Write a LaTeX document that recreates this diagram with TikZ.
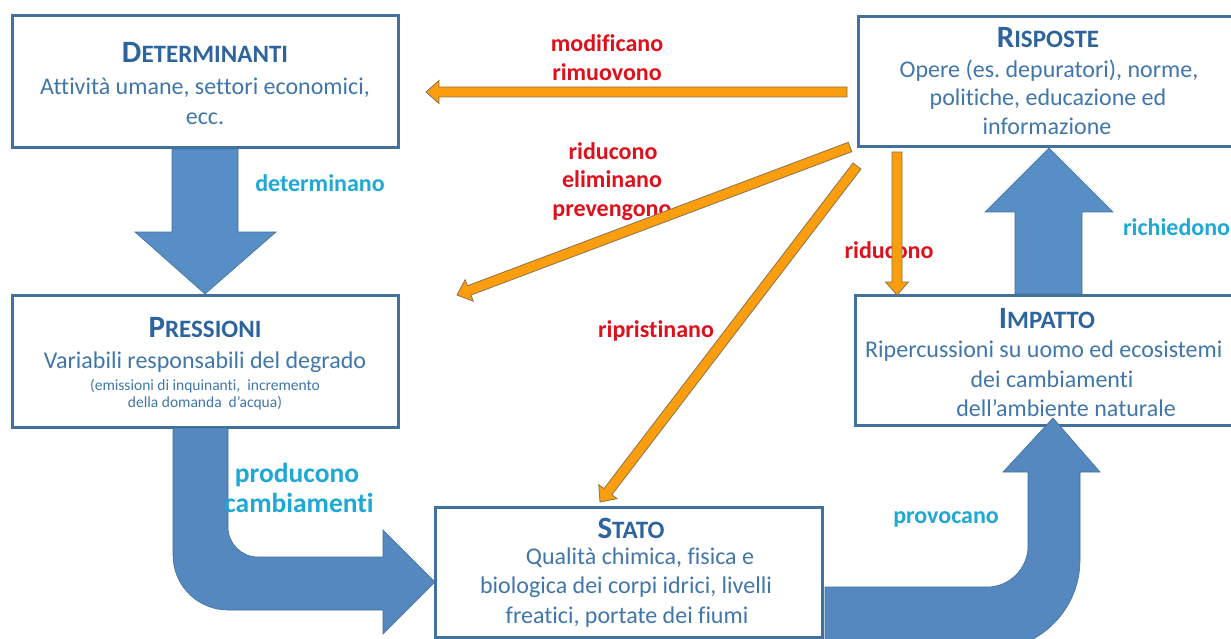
\documentclass[tikz,border=0pt]{standalone}
\usepackage{fontspec}
\setmainfont{Carlito}[Ligatures=NoCommon]
\usetikzlibrary{calc}
\frenchspacing
\definecolor{boxline}{RGB}{65,113,156}
\definecolor{titlecol}{RGB}{46,100,158}
\definecolor{bodycol}{RGB}{64,118,170}
\definecolor{labred}{RGB}{222,16,28}
\definecolor{labcyan}{RGB}{30,168,214}
\definecolor{bluearr}{RGB}{88,142,198}
\definecolor{bluecurve}{RGB}{84,136,190}
\definecolor{orangefill}{RGB}{250,157,14}
\definecolor{orangeline}{RGB}{140,115,75}
\newcommand\ttl[2]{\textbf{{\fontsize{31}{31}\selectfont #1}{\fontsize{25}{25}\selectfont #2}}}
\newcommand\orangearrow[3]{%
  \coordinate (#3h) at ($(#2)!13pt!(#1)$);
  \filldraw[oarr] ($(#1)!5pt!90:(#2)$) -- ($(#3h)!5pt!90:(#2)$) -- ($(#3h)!11.5pt!90:(#2)$) -- (#2)
    -- ($(#3h)!11.5pt!-90:(#2)$) -- ($(#3h)!5pt!-90:(#2)$) -- ($(#1)!5pt!-90:(#2)$) -- cycle;}
\begin{document}
\begin{tikzpicture}[x=1pt,y=-1pt,
  boxstyle/.style={draw=boxline, line width=3pt, fill=white, inner sep=0pt},
  ttlnode/.style={anchor=base, inner sep=0pt, text=titlecol},
  bodynode/.style={anchor=base, inner sep=0pt, text=bodycol, font=\fontsize{24}{29}\selectfont},
  subnode/.style={anchor=base, inner sep=0pt, text=bodycol, font=\fontsize{15.5}{18}\selectfont},
  redlab/.style={anchor=base, inner sep=0pt, text=labred, font=\fontsize{24}{29}\selectfont\bfseries},
  cyanlab/.style={anchor=base, inner sep=0pt, text=labcyan, font=\fontsize{24}{29}\selectfont\bfseries},
  cyanbig/.style={cyanlab, font=\fontsize{27.5}{30}\selectfont\bfseries},
  fatarrow/.style={fill=bluearr, draw=boxline, line width=0.6pt},
  curvearrow/.style={fill=bluecurve, draw=boxline, line width=0.6pt},
  oarr/.style={fill=orangefill, draw=orangeline, line width=0.8pt, line join=miter}]
\useasboundingbox (0,0) rectangle (1231,639);
\clip (0,0) rectangle (1231,639);
\fill[white] (0,0) rectangle (1231,639);

% boxes
\node[boxstyle, minimum width=386pt, minimum height=132pt] (det) at (205,82) {};
\node[boxstyle, minimum width=392pt, minimum height=130pt] (ris) at (1054,82) {};
\node[boxstyle, minimum width=386pt, minimum height=132pt] (pres) at (205,361) {};
\node[boxstyle, minimum width=395pt, minimum height=130pt] (imp) at (1052.5,360) {};
\node[boxstyle, minimum width=387pt, minimum height=130pt] (stato) at (628.5,572) {};

% fat blue arrows
\filldraw[fatarrow] (172,149) -- (238,149) -- (238,232) -- (276,232) -- (205,294) -- (135,232) -- (172,232) -- cycle;
\filldraw[fatarrow] (1015,294) -- (1082,294) -- (1082,212) -- (1113,212) -- (1049,148) -- (985,212) -- (1015,212) -- cycle;
\filldraw[curvearrow] (173,428) -- (173,555) .. controls (173,585.4) and (197.6,610) .. (228,610) -- (383,610) -- (383,634) -- (435,582) -- (383,530) -- (383,557) -- (258,557) .. controls (241.4,557) and (228,543.6) .. (228,527) -- (228,428) -- cycle;
\filldraw[curvearrow] (825,587) -- (987,587) .. controls (1009.6,587) and (1028,568.6) .. (1028,546) -- (1028,472) -- (1003,472) -- (1053,418) -- (1100,472) -- (1080,472) -- (1080,560) .. controls (1080,609.7) and (1039.7,650) .. (990,650) -- (825,650) -- cycle;

% box texts
\node[ttlnode] (detT) at (205,63) {\ttl{D}{ETERMINANTI}};
\node[bodynode] (detB1) at (205,95) {Attività umane, settori economici,};
\node[bodynode] (detB2) at (205,125) {ecc.};
\node[ttlnode] (risT) at (1048,48) {\ttl{R}{ISPOSTE}};
\node[bodynode] (risB1) at (1049,78) {Opere (es. depuratori), norme,};
\node[bodynode] (risB2) at (1048,106) {politiche, educazione ed};
\node[bodynode] (risB3) at (1047,135) {informazione};
\node[ttlnode] (presT) at (205,337) {\ttl{P}{RESSIONI}};
\node[bodynode] (presB1) at (205,368) {Variabili responsabili del degrado};
\node[subnode] (presB2) at (205,390) {(emissioni di inquinanti,\ \ incremento};
\node[subnode] (presB3) at (205,407) {della domanda\ \ d’acqua)};
\node[ttlnode] (impT) at (1047,328) {\ttl{I}{MPATTO}};
\node[bodynode, anchor=base west] (impB1) at (865,357) {Ripercussioni su uomo ed ecosistemi};
\node[bodynode] (impB2) at (1052,387) {dei cambiamenti};
\node[bodynode] (impB3) at (1066,416) {dell’ambiente naturale};
\node[ttlnode] (statT) at (631,538) {\ttl{S}{TATO}};
\node[bodynode] (statB1) at (640,564) {Qualità chimica, fisica e};
\node[bodynode] (statB2) at (626,593) {biologica dei corpi idrici, livelli};
\node[bodynode] (statB3) at (627,623) {freatici, portate dei fiumi};

% labels
\node[redlab] (l1) at (607,52) {modificano};
\node[redlab] (l2) at (607,81) {rimuovono};
\node[cyanlab] (l3) at (320,192) {determinano};
\node[redlab] (l4) at (613,160) {riducono};
\node[redlab] (l5) at (612,188) {eliminano};
\node[redlab] (l6) at (612,217) {prevengono};
\node[redlab] (l7) at (889,258) {riducono};
\node[redlab] (l8) at (656,337) {ripristinano};
\node[cyanbig] (l9) at (297,482) {producono};
\node[cyanbig] (l10) at (299,512) {cambiamenti};
\node[cyanlab] (l11) at (946,523) {provocano};
\node[cyanlab, anchor=base west] (l12) at (1123,235) {richiedono};

% orange arrows
\coordinate (o1s) at (847,92); \coordinate (o1e) at (426,92);
\coordinate (o2s) at (850,147); \coordinate (o2e) at (457,295);
\coordinate (o3s) at (857,166); \coordinate (o3e) at (600,502);
\coordinate (o4s) at (897,152); \coordinate (o4e) at (897,295);
\orangearrow{o1s}{o1e}{oa}
\orangearrow{o2s}{o2e}{ob}
\orangearrow{o3s}{o3e}{oc}
\orangearrow{o4s}{o4e}{od}
\end{tikzpicture}
\end{document}
